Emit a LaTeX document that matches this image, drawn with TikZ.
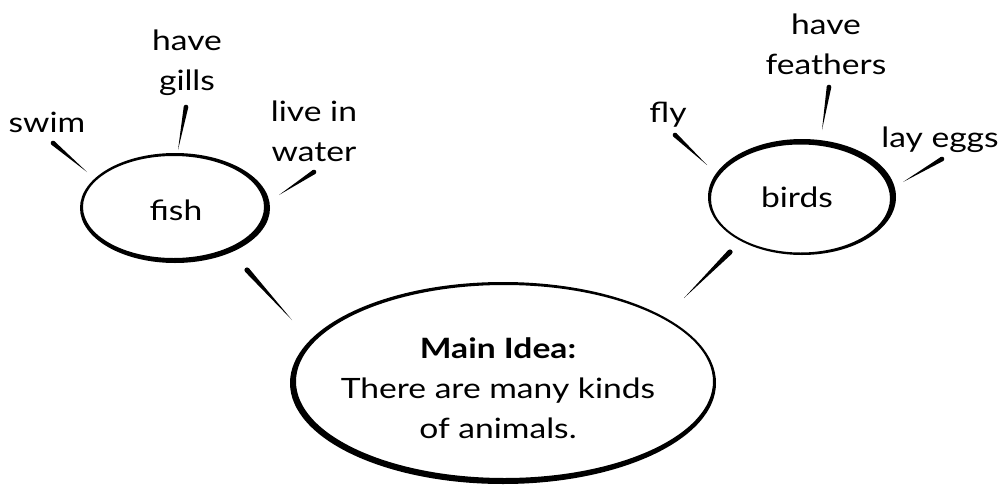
\documentclass[tikz,border=0pt]{standalone}
\usepackage{fontspec}
\setmainfont{Lato}[FakeStretch=1.2]
\usetikzlibrary{calc}
\tikzset{
  lbl/.style={font=\fontsize{28}{40}\selectfont, align=center, inner sep=0pt},
  ring/.style={fill=black, even odd rule},
}
\newcommand\taperline[3]{%
  \fill ($(#1)!#3!90:(#2)$) -- ($(#1)!#3!-90:(#2)$) -- (#2) -- cycle;
  \fill (#1) circle (#3);}
\begin{document}
\begin{tikzpicture}[x=1pt,y=-1pt]
\useasboundingbox (0,0) rectangle (1005,485);
\fill[white] (0,0) rectangle (1005,485);
% rings
\fill[ring] (175,208) ellipse (95pt and 55pt) (173.5,207) ellipse (90.5pt and 51pt);
\fill[ring] (802,197) ellipse (94pt and 58pt) (800.5,198.5) ellipse (89.5pt and 54pt);
\fill[ring] (503,383) ellipse (213pt and 101pt) (504.5,381.5) ellipse (208.5pt and 96.5pt);
% texts
\node[lbl] (fish) at (176,210) {fish};
\node[lbl] (birds) at (797,197) {birds};
\node[lbl] (main) at (498,388) {\textbf{Main Idea:}\\There are many kinds\\of animals.};
\node[lbl] (swim) at (47,122) {swim};
\node[lbl] (gills) at (187,63) {have\\gills};
\node[lbl] (water) at (314,131) {live in\\water};
\node[lbl] (fly) at (668,115) {fly};
\node[lbl] (feathers) at (826,44) {have\\feathers};
\node[lbl] (eggs) at (940,140) {lay eggs};
% connector ends
\coordinate (swimA) at (53,143);   \coordinate (swimB) at (87,172);
\coordinate (gillsA) at (186,107); \coordinate (gillsB) at (178,150);
\coordinate (waterA) at (314,172); \coordinate (waterB) at (279,195);
\coordinate (fishA) at (247,270);  \coordinate (fishB) at (292,320);
\coordinate (birdsA) at (730,252); \coordinate (birdsB) at (684,298);
\coordinate (flyA) at (675,135);   \coordinate (flyB) at (707,165);
\coordinate (featA) at (829,87);   \coordinate (featB) at (822,130);
\coordinate (eggsA) at (942,159);  \coordinate (eggsB) at (903,182);
\taperline{swimA}{swimB}{2.3pt}
\taperline{gillsA}{gillsB}{2.3pt}
\taperline{waterA}{waterB}{2.3pt}
\taperline{fishA}{fishB}{2.6pt}
\taperline{birdsA}{birdsB}{2.6pt}
\taperline{flyA}{flyB}{2.3pt}
\taperline{featA}{featB}{2.3pt}
\taperline{eggsA}{eggsB}{2.3pt}
\end{tikzpicture}
\end{document}
